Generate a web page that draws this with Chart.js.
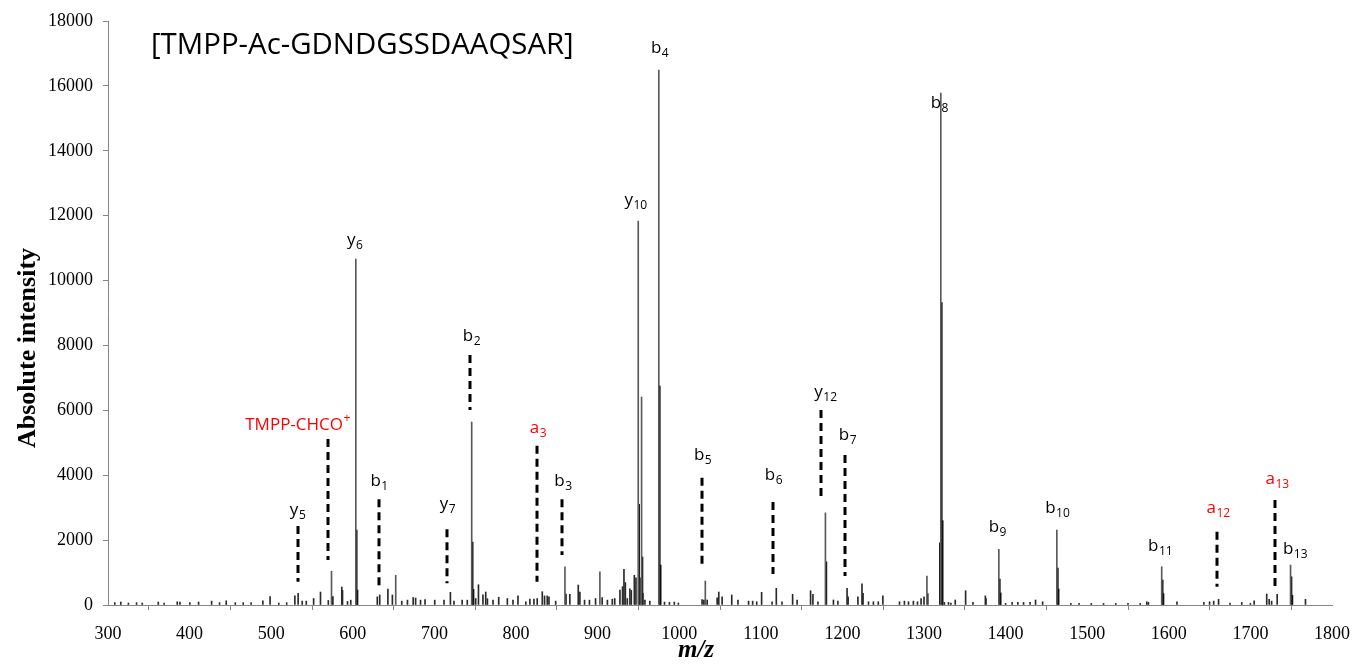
<!DOCTYPE html>
<html><head><meta charset="utf-8">
<script src="https://cdn.jsdelivr.net/npm/chart.js@4.4.1/dist/chart.umd.min.js"></script>
<style>html,body{margin:0;padding:0;background:#fff}#wrap{width:1353px;height:664px}</style>
</head><body><div id="wrap"><canvas id="c" width="1353" height="664"></canvas></div>
<script>
// ---- data (m/z, absolute intensity) ----
const xTicks = [300,400,500,600,700,800,900,1000,1100,1200,1300,1400,1500,1600,1700,1800];
const yTicks = [0,2000,4000,6000,8000,10000,12000,14000,16000,18000];

const mainMz  = [573.9, 603.7, 652.6, 745.7, 860.0, 902.8, 949.8, 953.9, 975.0, 1032.0, 1179.2, 1303.6, 1320.6, 1391.7, 1462.8, 1591.3, 1749.2];
const mainInt = [1040, 10660, 915, 5640, 1180, 1020, 11830, 6410, 16490, 740, 2840, 895, 15780, 1715, 2310, 1180, 1230];

const isoMz  = [575.5, 604.8, 605.8, 746.9, 748.0, 861.2, 950.9, 955.0, 976.2, 977.3, 1180.4, 1225.2, 1304.6, 1319.5, 1321.8, 1322.9, 1392.9, 1394.0, 1464.0, 1465.0, 1592.5, 1593.5, 1750.4, 1751.5];
const isoInt = [260, 2310, 460, 1940, 480, 340, 3100, 1480, 6750, 1230, 1330, 360, 350, 1920, 9320, 2600, 800, 370, 1140, 490, 770, 350, 870, 300];

const noiseMz = [308.3,315.7,325,335,342,361.6,368.8,384.9,388.2,400.3,411,427,436.7,444.9,456,465.7,475.4,489.8,498.6,509.3,519,529,533,538,543,552,560.4,570,586.5,587.4,593.5,597.5,630,633,643,648.5,660,667,674,677,683,688.5,700.4,711.8,719.6,724,734,740.3,750.6,754,759.5,762.9,765,771.8,778.8,789.4,796.3,802.4,812,817,822,826,832.2,835,838.3,840.4,848.6,866,876.3,878.3,884,890,897.5,905.6,912,918,921,927.4,930.6,932.3,934,936.4,939.6,941.3,945,947,951.9,955.6,958,964,982,988,994,999,1028,1030.2,1034.3,1046.5,1048.5,1052.6,1064.4,1072,1085,1090,1095,1101,1113.8,1119,1126,1139,1144.5,1161,1163.9,1170,1189,1194.5,1205.7,1207,1219,1224,1232,1238,1244,1249.6,1270,1276,1281,1287,1292,1296.4,1300,1325,1330,1333,1338.3,1351,1360,1375.2,1376,1400,1408,1415,1422,1430,1436.7,1445.4,1480,1490,1505,1520,1535,1550,1565,1573,1575,1610,1643,1650,1655,1661,1675,1689.4,1700,1704.6,1720,1723,1726,1732.8,1767.5];
const noiseInt = [72,92,60,72,60,92,60,100,92,72,92,120,72,130,72,72,72,130,260,60,72,280,360,120,120,200,400,140,555,450,110,150,250,310,490,310,120,150,230,215,150,170,150,150,390,120,150,150,200,625,310,400,195,150,240,200,150,280,100,180,180,200,410,280,280,255,120,330,615,400,150,150,200,230,150,180,200,460,565,1100,690,200,500,450,915,840,840,360,155,120,90,80,90,60,170,150,155,220,400,255,310,155,120,120,100,390,100,515,100,330,155,440,330,100,155,120,515,255,255,650,100,100,100,280,100,120,100,120,100,200,255,80,80,60,155,440,80,280,200,50,80,80,80,80,155,100,50,50,50,50,50,50,50,100,80,100,80,100,120,175,60,80,50,130,340,175,120,330,175];

// fragment labels: text, subscript, superscript, colour key, label anchor (m/z, intensity)
const labText  = ['y','TMPP-CHCO','b','y','y','b','a','b','y','b','b','b','y','b','b','b','b','b','a','a','b'];
const labSub   = ['5','','1','7','6','2','3','3','10','4','5','6','12','7','8','9','10','11','12','13','13'];
const labSup   = ['','+','','','','','','','','','','','','','','','','','','',''];
const labRed   = [0,1,0,0,0,0,1,0,0,0,0,0,0,0,0,0,0,0,1,1,0];
const labMz    = [532.3,532.3,632.2,716.0,602.4,745.4,826.9,857.5,946.5,975.9,1028.6,1115.5,1179.2,1206.1,1318.8,1389.8,1463.3,1589.4,1660.4,1732.7,1754.7];
const labInt   = [2928,5548,3822,3113,11250,8291,5455,3822,12483,17168,4623,4007,6565,5240,15473,2404,2990,1818,2990,3884,1726];

// dashed marker lines: m/z, top intensity, bottom intensity
const dashMz  = [532.3,570.2,632.2,716.0,743.3,826.2,856.8,1027.7,1115.5,1174.3,1203.7,1659.5,1730.2];
const dashTop = [2435,5116,3258,2333,7705,4910,3258,3924,3175,6010,4623,2260,3236];
const dashBot = [718,1387,564,669,6010,718,1541,1180,955,3236,894,564,545];

const titleText = '[TMPP-Ac-GDNDGSSDAAQSAR]';
const yTitle = 'Absolute intensity';
const xTitle = 'm/z';

// ---- chart ----
const toXY = (m, v) => m.map((mz, i) => ({x: mz, y: v[i]}));
const AX = '#868686';
const serif = '"Liberation Serif", "Times New Roman", serif';
const sans = '"Open Sans", "Noto Sans", sans-serif';

const annoPlugin = {
  id: 'anno',
  afterDatasetsDraw(chart) {
    const {ctx, scales: {x, y}} = chart;
    ctx.save();
    ctx.strokeStyle = '#000';
    ctx.lineWidth = 3;
    ctx.setLineDash([8, 5]);
    for (let i = 0; i < dashMz.length; i++) {
      const px = Math.round(x.getPixelForValue(dashMz[i]));
      ctx.beginPath();
      ctx.moveTo(px, y.getPixelForValue(dashTop[i]));
      ctx.lineTo(px, y.getPixelForValue(dashBot[i]));
      ctx.stroke();
    }
    ctx.setLineDash([]);
    const mainF = '17px ' + sans, subF = '12px ' + sans;
    ctx.textBaseline = 'middle';
    ctx.textAlign = 'left';
    for (let i = 0; i < labText.length; i++) {
      ctx.font = mainF; const w1 = ctx.measureText(labText[i]).width;
      ctx.font = subF; const w2 = labSub[i] ? ctx.measureText(labSub[i]).width : 0;
      const w3 = labSup[i] ? ctx.measureText(labSup[i]).width : 0;
      const cx = x.getPixelForValue(labMz[i]);
      const cy = y.getPixelForValue(labInt[i]);
      const x0 = cx - (w1 + w2 + w3) / 2;
      ctx.fillStyle = labRed[i] ? '#ff0000' : '#000';
      ctx.font = mainF; ctx.fillText(labText[i], x0, cy);
      ctx.font = subF;
      if (labSub[i]) ctx.fillText(labSub[i], x0 + w1 + 0.5, cy + 6);
      if (labSup[i]) ctx.fillText(labSup[i], x0 + w1 + 0.5, cy - 6);
    }
    ctx.restore();
  },
  afterDraw(chart) {
    const {ctx} = chart;
    ctx.save();
    ctx.fillStyle = '#000';
    ctx.textBaseline = 'middle';
    ctx.textAlign = 'left';
    ctx.font = '29.4px ' + sans;
    ctx.fillText(titleText, 151, 46);
    ctx.textAlign = 'center';
    ctx.font = 'italic bold 25px ' + serif;
    ctx.fillText(xTitle, 696, 651);
    ctx.translate(28, 348);
    ctx.rotate(-Math.PI / 2);
    ctx.font = 'bold 26px ' + serif;
    ctx.fillText(yTitle, 0, 0);
    ctx.restore();
  }
};

new Chart(document.getElementById('c'), {
  type: 'bar',
  data: {
    datasets: [
      {label: 'noise', data: toXY(noiseMz, noiseInt), backgroundColor: '#2a2a2a'},
      {label: 'main', data: toXY(mainMz, mainInt), backgroundColor: '#5a5a5a'},
      {label: 'iso', data: toXY(isoMz, isoInt), backgroundColor: '#111111'}
    ]
  },
  options: {
    responsive: false,
    animation: false,
    devicePixelRatio: 1,
    layout: {padding: {top: 21, right: 21, left: 0, bottom: 0}},
    datasets: {bar: {barThickness: 1, grouped: false, borderWidth: 0}},
    plugins: {legend: {display: false}, tooltip: {enabled: false}},
    scales: {
      x: {
        type: 'linear', min: 300, max: 1800, offset: false,
        afterBuildTicks: s => { s.ticks = xTicks.map(v => ({value: v})); },
        afterFit: s => { s.height = 59; s.paddingLeft = 0; s.paddingRight = 0; },
        grid: {drawOnChartArea: false, drawTicks: true, tickLength: 5, color: AX},
        border: {display: true, color: AX, width: 1},
        ticks: {font: {family: serif, size: 18}, color: '#000', padding: 13, maxRotation: 0, autoSkip: false, callback: v => String(v)}
      },
      y: {
        type: 'linear', min: 0, max: 18000,
        afterBuildTicks: s => { s.ticks = yTicks.map(v => ({value: v})); },
        afterFit: s => { s.width = 108; s.paddingTop = 0; s.paddingBottom = 0; },
        grid: {drawOnChartArea: false, drawTicks: true, tickLength: 5, color: AX},
        border: {display: true, color: AX, width: 1},
        ticks: {font: {family: serif, size: 18}, color: '#000', padding: 10, autoSkip: false, callback: v => String(v)}
      }
    }
  },
  plugins: [annoPlugin]
});
</script>
</body></html>
